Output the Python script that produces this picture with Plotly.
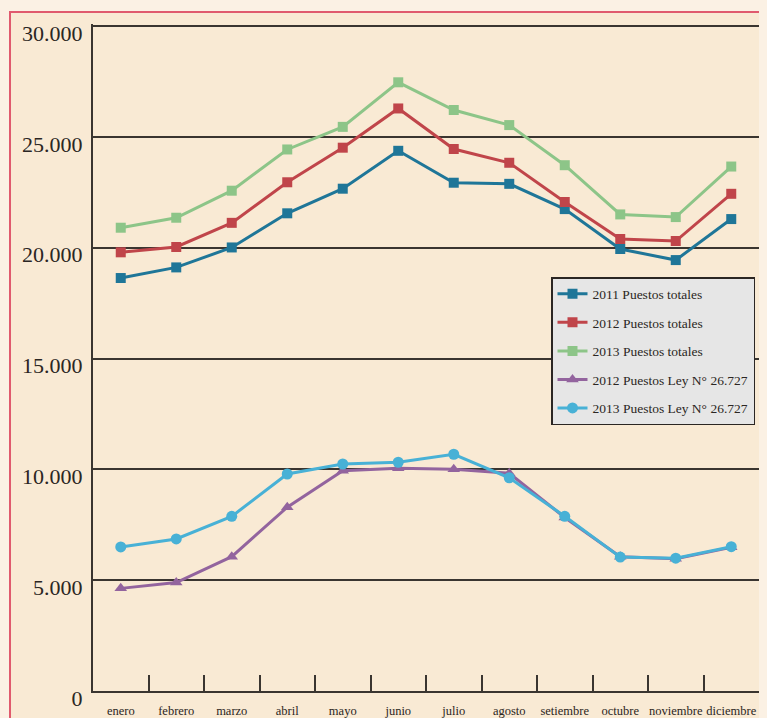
import plotly.graph_objects as go

meses = ["enero", "febrero", "marzo", "abril", "mayo", "junio", "julio",
         "agosto", "setiembre", "octubre", "noviembre", "diciembre"]

total_2011 = [18630, 19110, 20010, 21550, 22660, 24370, 22930, 22880, 21740, 19940, 19440, 21290]
total_2012 = [19790, 20030, 21120, 22950, 24510, 26280, 24450, 23830, 22060, 20390, 20300, 22430]
total_2013 = [20900, 21350, 22570, 24430, 25450, 27460, 26210, 25530, 23720, 21500, 21380, 23660]
ley_2012 = [4630, 4890, 6060, 8290, 9940, 10050, 10000, 9820, 7830, 6060, 5970, 6480]
ley_2013 = [6500, 6860, 7880, 9790, 10240, 10320, 10680, 9620, 7880, 6040, 5990, 6510]

y_ticks = [0, 5000, 10000, 15000, 20000, 25000, 30000]
y_labels = ["0", "5.000", "10.000", "15.000", "20.000", "25.000", "30.000"]

series = [
    ("2011 Puestos totales", total_2011, "#1F7698", "square", 10),
    ("2012 Puestos totales", total_2012, "#C0454A", "square", 10),
    ("2013 Puestos totales", total_2013, "#8DC588", "square", 10),
    ("2012 Puestos Ley N° 26.727", ley_2012, "#93649E", "triangle-up", 11),
    ("2013 Puestos Ley N° 26.727", ley_2013, "#48B1D6", "circle", 11),
]

fig = go.Figure()
for i, (name, vals, col, sym, sz) in enumerate(series):
    fig.add_trace(go.Scatter(
        x=meses, y=vals, name=name, mode="lines+markers",
        line=dict(color=col, width=3),
        marker=dict(symbol=sym, size=sz, color=col),
        legendgroup="g%d" % i,
    ))

# page is offset 8px by the default body margin
OFF = 8
W, H = 767 - OFF, 718 - OFF
L, T = 93 - OFF, 24 - OFF
R = 767 - 759
B = 718 - 691
pw, ph = W - L - R, H - T - B
y_top = 30000 * (691 - 24) / (691 - 26)

def px_x(x):
    return (x - OFF - L) / pw

def px_y(y):
    return (H - B - (y - OFF)) / ph

fig.add_shape(type="rect", xref="paper", yref="paper",
              x0=px_x(10), x1=2, y0=-1, y1=px_y(12),
              fillcolor="#F9EAD4", line=dict(color="#E05A6E", width=2),
              layer="below")

fig.update_layout(
    width=W, height=H,
    margin=dict(l=L, r=R, t=T, b=B, autoexpand=False),
    paper_bgcolor="#FBF1E4",
    plot_bgcolor="rgba(0,0,0,0)",
    font=dict(family="Liberation Serif", color="#2B2623"),
    showlegend=True,
    legend=dict(
        x=px_x(551), y=px_y(277), xanchor="left", yanchor="top",
        bgcolor="#E6E6E6", bordercolor="#2B2623", borderwidth=1.5,
        font=dict(size=13.5, family="Liberation Serif", color="#2B2623"),
        tracegroupgap=8, traceorder="grouped", itemwidth=30,
    ),
    xaxis=dict(
        type="category", range=[-0.5, 11.5], automargin=False,
        showgrid=False, showline=True, linecolor="#3A3530", linewidth=2,
        ticks="inside", tickson="boundaries", ticklen=16, tickwidth=2,
        tickcolor="#3A3530", tickangle=0, ticklabelstandoff=7,
        tickfont=dict(size=12.5, family="Liberation Serif"),
        zeroline=False,
    ),
    yaxis=dict(
        range=[0, y_top], tickvals=y_ticks, ticktext=y_labels, automargin=False,
        showgrid=True, gridcolor="#3A3530", gridwidth=1.5,
        showline=True, linecolor="#3A3530", linewidth=2,
        ticks="", tickfont=dict(size=22, family="Liberation Serif"),
        zeroline=False, ticklabelshift=7, ticklabelstandoff=4,
    ),
)

fig.write_html(
    "out.html",
    post_script="document.body.style.background='#FBF1E4';",
)
